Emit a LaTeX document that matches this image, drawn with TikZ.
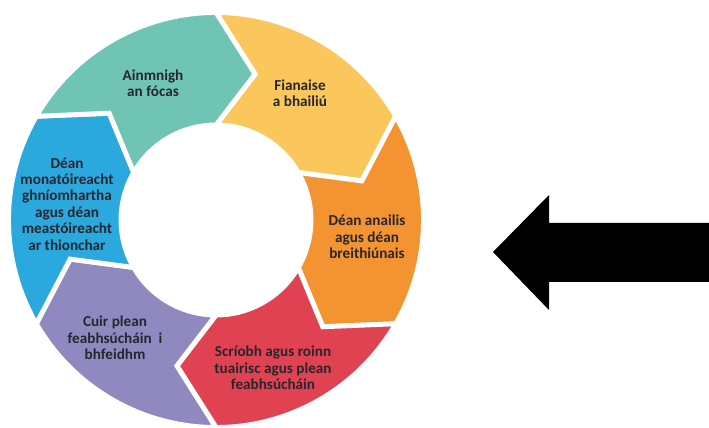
\documentclass[tikz,border=0pt]{standalone}
\usepackage{fontspec}
\setmainfont{Carlito}
\definecolor{segTeal}{HTML}{6FC4B3}
\definecolor{segYellow}{HTML}{FBC65C}
\definecolor{segOrange}{HTML}{F39332}
\definecolor{segRed}{HTML}{E04252}
\definecolor{segPurple}{HTML}{9089C0}
\definecolor{segBlue}{HTML}{2BA8DE}
\definecolor{labelInk}{HTML}{26262F}
\begin{document}
\begin{tikzpicture}[x=0.025cm,y=0.025cm]

    \tikzset{
      seg/.style={
        draw=white,
        line width=3.5pt,
        line join=miter,
      },
      lbl/.style={
        align=center,
        inner sep=0pt,
        text=labelInk,
        font=\bfseries\fontsize{10.8}{11.7}\selectfont,
      },
    }
    \useasboundingbox (0,0) rectangle (709,427);
    \def\ri{95}
    \def\rm{151}
    \def\ro{207.5}
    % the ring, six chevron segments going clockwise
    \begin{scope}[shift={(216,207)}]
    \foreach \a/\col in {90/segYellow,30/segOrange,-30/segRed,-90/segPurple,-150/segBlue,150/segTeal}{
	\filldraw[seg, fill=\col] (\a:\ro) arc[start angle=\a, end angle=\a-60, radius=\ro]
	  -- ({\a-75}:\rm) -- ({\a-60}:\ri) arc[start angle=\a-60, end angle=\a, radius=\ri]
	  -- ({\a-15}:\rm) -- cycle;
    }
    \end{scope}
	\node[lbl] (focus) at (153,344) {Ainmnigh\\an fócas};
	\node[lbl] (evidence) at (300,334) {Fianaise\\a bhailiú};
	\node[lbl] (analyse) at (367,190) {Déan anailis\\agus déan\\breithiúnais};
	\node[lbl] (report) at (273,59) {Scríobh agus roinn\\tuairisc agus plean\\feabhsúcháin};
	\node[lbl] (implement) at (115,89) {Cuir plean\\feabhsúcháin\ \ i\\bhfeidhm};
	\node[lbl] (monitor) at (67,223) {Déan\\monatóireacht\\ghníomhartha\\agus déan\\meastóireacht\\ar thionchar};
    % big arrow pointing at the ring
	\fill[black] (709,204) -- (549,204) -- (549,232) -- (493,175) -- (549,117) -- (549,145) -- (709,145) -- cycle;

\end{tikzpicture}
\end{document}
